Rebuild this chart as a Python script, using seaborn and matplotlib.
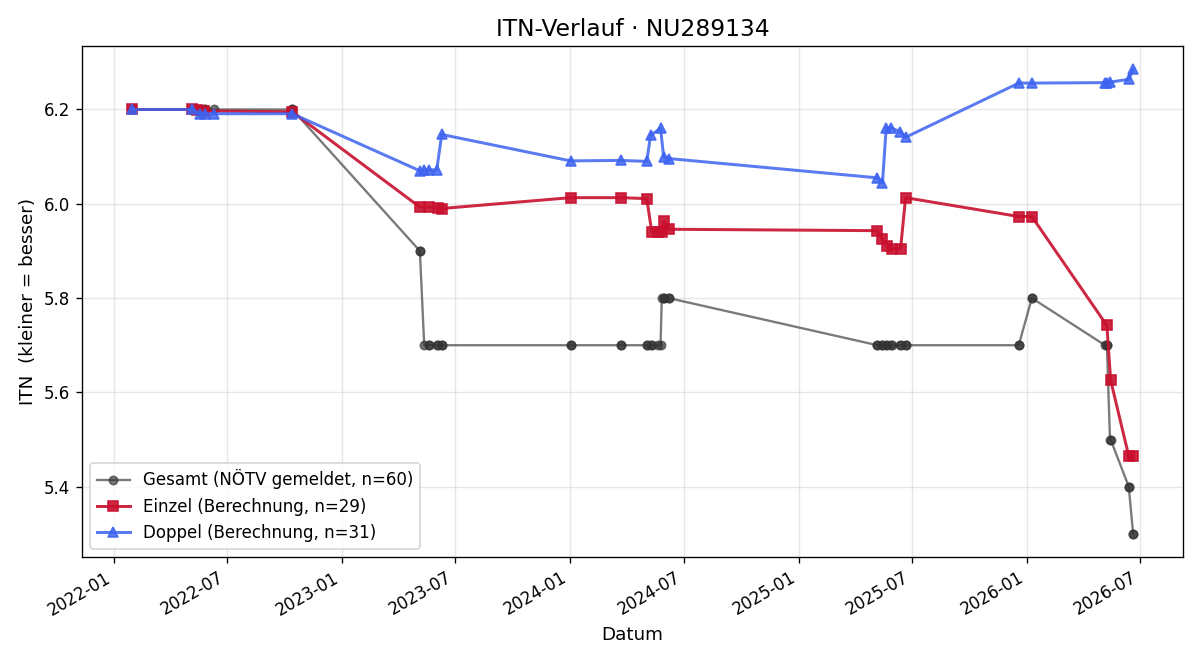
import numpy as np
import pandas as pd
import matplotlib
matplotlib.use('Agg')
import matplotlib.pyplot as plt
import matplotlib.dates as mdates
import seaborn as sns

# Einzel (Berechnung)
einzel_dates = ['2022-01-30', '2022-05-07', '2022-05-15', '2022-05-25', '2022-10-14',
                '2023-05-06', '2023-05-20', '2023-06-04', '2023-06-10',
                '2024-01-02', '2024-03-22',
                '2024-05-03', '2024-05-11', '2024-05-21', '2024-05-27', '2024-05-30', '2024-06-07',
                '2025-05-07', '2025-05-15', '2025-05-23', '2025-05-31', '2025-06-13', '2025-06-21',
                '2025-12-19', '2026-01-09',
                '2026-05-09', '2026-05-15', '2026-06-13', '2026-06-20']
einzel_itn = [6.200, 6.200, 6.198, 6.197, 6.195,
              5.993, 5.993, 5.992, 5.990,
              6.013, 6.013,
              6.011, 5.940, 5.940, 5.940, 5.963, 5.946,
              5.943, 5.925, 5.911, 5.905, 5.905, 6.013,
              5.973, 5.973,
              5.742, 5.626, 5.465, 5.464]

# Doppel (Berechnung)
doppel_dates = ['2022-01-30', '2022-05-07', '2022-05-20', '2022-05-28', '2022-06-11', '2022-10-14',
                '2023-05-06', '2023-05-13', '2023-05-20', '2023-06-02', '2023-06-10',
                '2024-01-02', '2024-03-22',
                '2024-05-03', '2024-05-09', '2024-05-25', '2024-05-30', '2024-06-07',
                '2025-05-07', '2025-05-15', '2025-05-21', '2025-05-29', '2025-06-12', '2025-06-21',
                '2025-12-19', '2026-01-09', '2026-05-06', '2026-05-09', '2026-05-14', '2026-06-13', '2026-06-20']
doppel_itn = [6.200, 6.200, 6.191, 6.191, 6.191, 6.191,
              6.070, 6.072, 6.072, 6.072, 6.147,
              6.091, 6.092,
              6.090, 6.145, 6.160, 6.100, 6.096,
              6.055, 6.044, 6.161, 6.161, 6.153, 6.141,
              6.256, 6.256, 6.257, 6.257, 6.258, 6.264, 6.285]

# Gesamt (NÖTV gemeldet) - one value per match, in date order
gesamt_itn = [6.2, 6.2, 6.2, 6.2, 6.2, 6.2, 6.2, 6.2, 6.2, 6.2, 6.2,
              5.9, 5.9, 5.7, 5.7, 5.7, 5.7, 5.7, 5.7, 5.7,
              5.7, 5.7, 5.7, 5.7, 5.7, 5.7, 5.7, 5.7, 5.7, 5.7, 5.8, 5.8, 5.8, 5.8, 5.8,
              5.7, 5.7, 5.7, 5.7, 5.7, 5.7, 5.7, 5.7, 5.7, 5.7, 5.7, 5.7,
              5.7, 5.7, 5.8, 5.8, 5.7, 5.7, 5.7, 5.5, 5.5, 5.4, 5.4, 5.3, 5.3]

df_e = pd.DataFrame({'datum': pd.to_datetime(einzel_dates), 'itn': einzel_itn})
df_d = pd.DataFrame({'datum': pd.to_datetime(doppel_dates), 'itn': doppel_itn})
gesamt_dates = sorted(df_e['datum'].tolist() + df_d['datum'].tolist())
df_g = pd.DataFrame({'datum': gesamt_dates, 'itn': gesamt_itn})

fig, ax = plt.subplots(figsize=(10, 5.5), dpi=120)

sns.lineplot(data=df_g, x='datum', y='itn', ax=ax, estimator=None, sort=False,
             color='#333333', alpha=0.65, linewidth=1.4, marker='o', markersize=5,
             markeredgecolor='#333333', markeredgewidth=1,
             label=f'Gesamt (NÖTV gemeldet, n={len(df_g)})')
sns.lineplot(data=df_e, x='datum', y='itn', ax=ax, estimator=None, sort=False,
             color='#C8102E', alpha=0.9, linewidth=1.8, marker='s', markersize=6,
             markeredgecolor='#C8102E', markeredgewidth=1,
             label=f'Einzel (Berechnung, n={len(df_e)})')
sns.lineplot(data=df_d, x='datum', y='itn', ax=ax, estimator=None, sort=False,
             color='#3D63F0', alpha=0.85, linewidth=1.8, marker='^', markersize=6,
             markeredgecolor='#3D63F0', markeredgewidth=1,
             label=f'Doppel (Berechnung, n={len(df_d)})')

ax.set_title('ITN-Verlauf · NU289134', fontsize=14)
ax.set_xlabel('Datum', fontsize=11)
ax.set_ylabel('ITN  (kleiner = besser)', fontsize=11)
ax.grid(True, alpha=0.3)
ax.xaxis.set_major_locator(mdates.MonthLocator(bymonth=[1, 7]))
ax.xaxis.set_major_formatter(mdates.DateFormatter('%Y-%m'))
ax.legend(loc='lower left')
fig.autofmt_xdate()
plt.subplots_adjust(left=0.068, right=0.986, top=0.930, bottom=0.156)
plt.savefig('out.png')
